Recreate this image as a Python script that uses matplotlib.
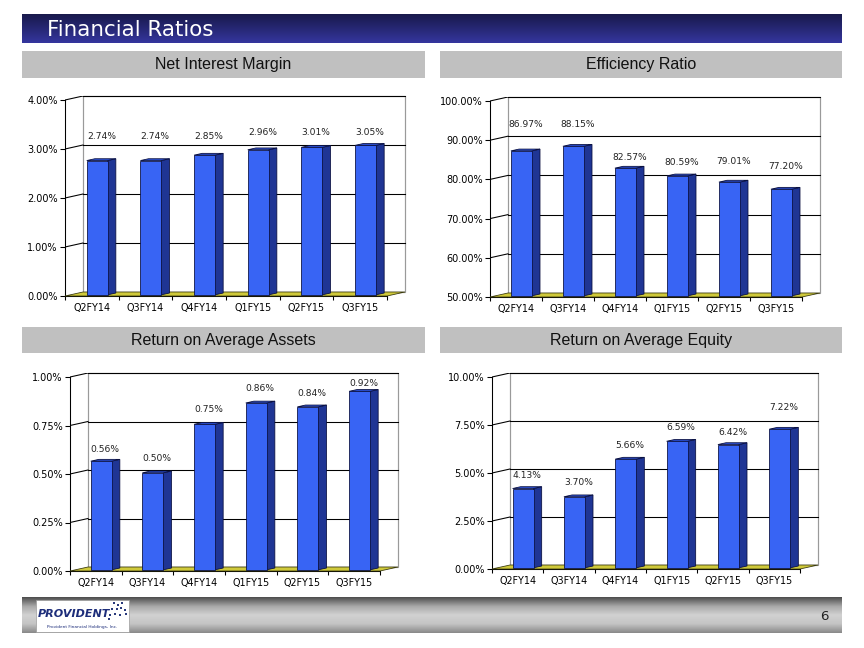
import numpy as np
import matplotlib
matplotlib.use('Agg')
import matplotlib.pyplot as plt
from matplotlib.patches import Rectangle, Polygon
from matplotlib.colors import LinearSegmentedColormap
from matplotlib.ticker import FuncFormatter, FixedLocator

# Data
quarters = ['Q2FY14', 'Q3FY14', 'Q4FY14', 'Q1FY15', 'Q2FY15', 'Q3FY15']
nim = [2.74, 2.74, 2.85, 2.96, 3.01, 3.05]
efficiency = [86.97, 88.15, 82.57, 80.59, 79.01, 77.20]
roa = [0.56, 0.50, 0.75, 0.86, 0.84, 0.92]
roe = [4.13, 3.70, 5.66, 6.59, 6.42, 7.22]

# label lift above bar tops (px), as placed on the slide
nim_lift = [24, 24, 19, 17, 15, 13]
eff_lift = [26, 22, 11, 13, 21, 23]
roa_lift = [12, 14, 15, 14, 13, 8]
roe_lift = [13, 14, 14, 14, 12, 22]

W, H = 864, 648
DX, DY = 18, 4          # 3d depth of the plot box in px
BAR_F, BAR_D = 0.3, 0.45
BLUE, BLUE_SIDE, BLUE_TOP = '#3864f4', '#1f3594', '#2b4fd0'
FLOOR = '#cfc93a'

plt.rcParams['font.family'] = ['DejaVu Sans']
fig = plt.figure(figsize=(W / 96, H / 96), dpi=96)
fig.patch.set_facecolor('white')

# slide decoration
bg = fig.add_axes([0, 0, 1, 1], zorder=0)
bg.set_xlim(0, W)
bg.set_ylim(H, 0)
bg.axis('off')

navy = LinearSegmentedColormap.from_list('navy', ['#191a4c', '#262774', '#35369e'])
bg.imshow(np.linspace(0, 1, 64).reshape(-1, 1), cmap=navy, aspect='auto',
          extent=(22, 842, 43, 14), zorder=1)
bg.text(47, 29.5, 'Financial Ratios', color='white', fontsize=16, va='center', ha='left', zorder=2)

grey = LinearSegmentedColormap.from_list('grey', ['#4e4e4e', '#a8a8a8', '#d2d2d2', '#c4c4c4', '#8a8a8a'])
bg.imshow(np.linspace(0, 1, 64).reshape(-1, 1), cmap=grey, aspect='auto',
          extent=(22, 842, 633, 597), zorder=1)
bg.add_patch(Rectangle((36, 600), 93, 32, facecolor='white', edgecolor='#999999', lw=0.5, zorder=2))
bg.text(38, 614, 'PROVIDENT', color='#1d2d7a', fontsize=8.3, fontweight='bold', style='italic',
        va='center', ha='left', family='Liberation Sans Narrow', zorder=3)
bg.scatter([114, 118, 122, 112, 117, 121, 125, 110, 115, 120, 126, 109],
           [603, 605, 603, 609, 609, 608, 610, 615, 614, 615, 614, 619],
           marker='s', s=3, color='#2a3a7c', linewidths=0, zorder=3)
bg.text(82, 627, 'Provident Financial Holdings, Inc.', color='#1d2d7a', fontsize=3.2,
        va='center', ha='center', zorder=3)
bg.text(824, 617, '6', color='#222222', fontsize=10, va='center', ha='center', zorder=3)

headers = [('Net Interest Margin', 22, 425, 51, 78),
           ('Efficiency Ratio', 440, 842, 51, 78),
           ('Return on Average Assets', 22, 425, 327, 353),
           ('Return on Average Equity', 440, 842, 327, 353)]
for name, x0, x1, y0, y1 in headers:
    bg.add_patch(Rectangle((x0, y0), x1 - x0, y1 - y0, facecolor='#c0c0c0', edgecolor='none', zorder=1))
    bg.text((x0 + x1) / 2, (y0 + y1) / 2, name, fontsize=12, family='Liberation Sans',
            color='#111111', ha='center', va='center', zorder=2)


def panel(fx, bxr, y0, ytop, ymin, ymax, step, values, lift):
    slot = (bxr - DX - fx) / 6.0
    scale = (y0 - ytop) / float(ymax - ymin)
    d = DX / slot
    dyd = DY / scale
    ax = fig.add_axes([fx / W, 1 - y0 / H, (bxr - fx) / W, (y0 - ytop + DY) / H], zorder=2)
    ax.set_xlim(-0.5, 5.5 + d)
    ax.set_ylim(ymin, ymax + dyd)
    ax.patch.set_alpha(0)

    ticks = np.arange(ymin, ymax + step / 2, step)
    # back wall
    ax.add_patch(Rectangle((-0.5 + d, ymin + dyd), 6, ymax - ymin, facecolor='white',
                           edgecolor='#9a9a9a', lw=0.9, zorder=1, clip_on=False))
    for t in ticks[1:]:
        ax.plot([-0.5 + d, 5.5 + d], [t + dyd, t + dyd], color='black', lw=0.8, zorder=2, clip_on=False)
        ax.plot([-0.5, -0.5 + d], [t, t + dyd], color='black', lw=0.8, zorder=2)
    # floor
    ax.add_patch(Polygon([(-0.5, ymin), (5.5, ymin), (5.5 + d, ymin + dyd), (-0.5 + d, ymin + dyd)],
                         closed=True, facecolor=FLOOR, edgecolor='#3a3a10', lw=0.6, zorder=3,
                         clip_on=False))

    # bars
    x = np.arange(len(values))
    w = 21.0 / slot
    ax.bar(x + BAR_F * d, np.array(values) - ymin, bottom=ymin + BAR_F * dyd, width=w,
           color=BLUE, edgecolor='#0a1040', lw=0.6, zorder=5)
    for i, v in enumerate(values):
        xl = i + BAR_F * d - w / 2
        xr = xl + w
        yb = ymin + BAR_F * dyd
        yt = v + BAR_F * dyd
        ox, oy = BAR_D * d, BAR_D * dyd
        ax.add_patch(Polygon([(xr, yb), (xr, yt), (xr + ox, yt + oy), (xr + ox, yb + oy)],
                             facecolor=BLUE_SIDE, edgecolor='#0a1040', lw=0.6, zorder=4))
        ax.add_patch(Polygon([(xl, yt), (xr, yt), (xr + ox, yt + oy), (xl + ox, yt + oy)],
                             facecolor=BLUE_TOP, edgecolor='#0a1040', lw=0.6, zorder=4))
        ax.annotate(f'{v:.2f}%', xy=(i + BAR_F * d + ox / 2, yt), xytext=(0, lift[i]),
                    textcoords='offset pixels', ha='center', va='center', fontsize=6.8,
                    color='#222222', zorder=6)

    # axes
    for s in ['top', 'right']:
        ax.spines[s].set_visible(False)
    ax.spines['left'].set_bounds(ymin, ymax)
    ax.spines['bottom'].set_bounds(-0.5, 5.5)
    ax.spines['left'].set_linewidth(0.8)
    ax.spines['bottom'].set_linewidth(0.8)
    ax.set_yticks(ticks)
    ax.yaxis.set_major_formatter(FuncFormatter(lambda v, p: f'{v:.2f}%'))
    ax.tick_params(axis='y', direction='out', length=3.5, width=0.8, labelsize=7.3, pad=2)
    ax.set_xticks(x)
    ax.set_xticklabels(quarters)
    ax.xaxis.set_minor_locator(FixedLocator(np.arange(-0.5, 6, 1.0)))
    ax.tick_params(axis='x', which='major', length=0, labelsize=7.2, pad=5)
    ax.tick_params(axis='x', which='minor', length=3, width=0.8, direction='out')
    return ax


panel(65, 405, 296, 100, 0, 4, 1, nim, nim_lift)
panel(490, 820, 297, 101, 50, 100, 10, efficiency, eff_lift)
panel(70, 398, 571, 377, 0, 1, 0.25, roa, roa_lift)
panel(492, 818, 569, 377, 0, 10, 2.5, roe, roe_lift)

fig.savefig('out.png', dpi=96)
